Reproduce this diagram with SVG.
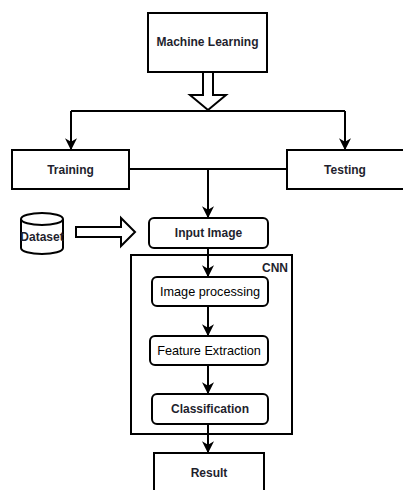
<svg xmlns="http://www.w3.org/2000/svg" width="403" height="490" viewBox="0 0 403 490">
<defs>
<style>
.box{fill:#fff;stroke:#000;stroke-width:2}
.frame{fill:none;stroke:#000;stroke-width:2}
.t{font-family:"Liberation Sans",Arial,sans-serif;font-size:12px;font-weight:bold;fill:#1f1f2e;text-anchor:middle;dominant-baseline:central}
.n{font-weight:normal;fill:#000;font-size:12.7px}
.ln{fill:none;stroke:#000;stroke-width:2}
.blk{fill:#fff;stroke:#000;stroke-width:2;stroke-linejoin:miter}
</style>
<marker id="ah" viewBox="0 0 10 10" refX="9" refY="5" markerWidth="6" markerHeight="6" orient="auto" markerUnits="strokeWidth">
<path d="M0,0 L10,5 L0,10 L3,5 Z" fill="#000"/>
</marker>
</defs>
<rect width="403" height="490" fill="#fff"/>
<g id="cnn">
<rect class="frame" x="131" y="255" width="161" height="179"/>
<text class="t" x="275" y="268">CNN</text>
</g>
<g id="connectors">
<polygon class="blk" points="203,72 213,72 213,95 226,95 208,110 190,95 203,95"/>
<path class="ln" d="M71,111 H345"/>
<path class="ln" d="M71,111 V149" marker-end="url(#ah)"/>
<path class="ln" d="M345,111 V149" marker-end="url(#ah)"/>
<path class="ln" d="M129,169 H287"/>
<path class="ln" d="M208,169 V217" marker-end="url(#ah)"/>
<polygon class="blk" points="76,227 121,227 121,218 135,232 121,246 121,237 76,237"/>
<path class="ln" d="M208,248 V276" marker-end="url(#ah)"/>
<path class="ln" d="M208,306 V335" marker-end="url(#ah)"/>
<path class="ln" d="M208,365 V393" marker-end="url(#ah)"/>
<path class="ln" d="M208,424 V452" marker-end="url(#ah)"/>
</g>
<g id="machine-learning">
<rect class="box" x="148" y="13" width="119" height="59"/>
<text class="t" x="207.5" y="42">Machine Learning</text>
</g>
<g id="training">
<rect class="box" x="12" y="150" width="117" height="39"/>
<text class="t" x="70.5" y="169.5">Training</text>
</g>
<g id="testing">
<rect class="box" x="287" y="150" width="120" height="39"/>
<text class="t" x="345" y="169.5">Testing</text>
</g>
<g id="dataset">
<path class="box" d="M21,219 V248 A21,6 0 0 0 63,248 V219 A21,6 0 0 0 21,219 A21,6 0 0 0 63,219"/>
<text class="t" x="42" y="237">Dataset</text>
</g>
<g id="input-image">
<rect class="box" x="149" y="218" width="119" height="30" rx="5"/>
<text class="t" x="208.5" y="233">Input Image</text>
</g>
<g id="image-processing">
<rect class="box" x="152" y="277" width="116" height="29" rx="5"/>
<text class="t n" x="210" y="291.5">Image processing</text>
</g>
<g id="feature-extraction">
<rect class="box" x="150" y="336" width="118" height="29" rx="5"/>
<text class="t n" x="209" y="350.5">Feature Extraction</text>
</g>
<g id="classification">
<rect class="box" x="152" y="394" width="116" height="30" rx="5"/>
<text class="t" x="210" y="409">Classification</text>
</g>
<g id="result">
<rect class="box" x="154" y="453" width="110" height="45"/>
<text class="t" x="209" y="473">Result</text>
</g>
</svg>
